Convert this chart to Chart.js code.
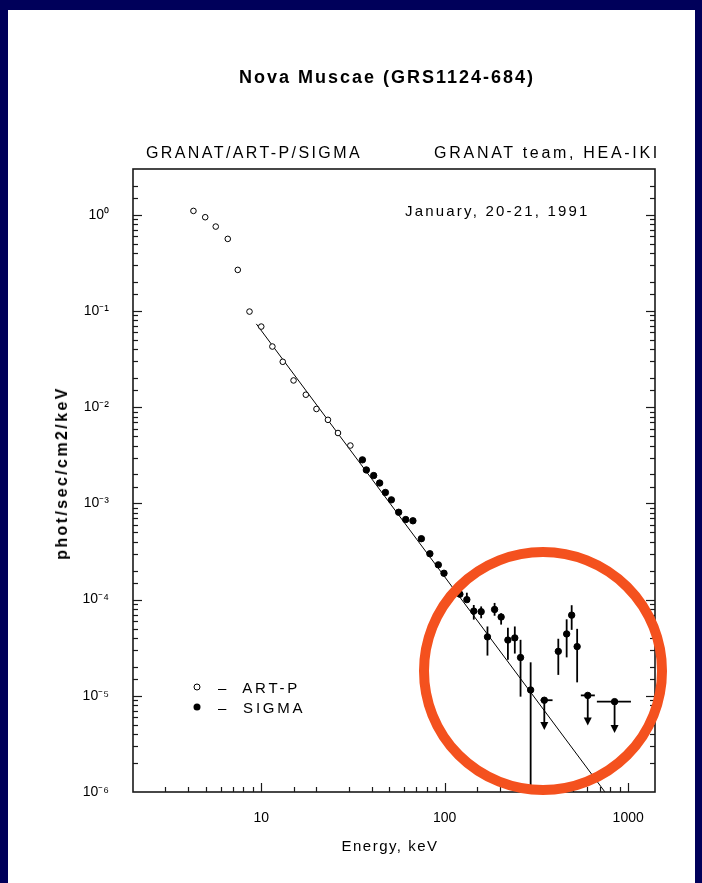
<!DOCTYPE html>
<html>
<head>
<meta charset="utf-8">
<title>Nova Muscae (GRS1124-684)</title>
<script src="https://cdn.jsdelivr.net/npm/chart.js@4/dist/chart.umd.min.js"></script>
<style>
  html, body { margin: 0; padding: 0; width: 702px; height: 883px; overflow: hidden;
    background: #00005a; font-family: "Liberation Sans", Arial, Helvetica, sans-serif; color: #000; }
  #paper { position: absolute; left: 8px; top: 10px; width: 687px; height: 873px; background: #fff; }
  #chart { position: absolute; left: 0; top: 0; }
  .t { position: absolute; white-space: nowrap; line-height: 1; }
  .mk { position: absolute; width: 5px; height: 5px; border-radius: 50%; transform: translate(-50%, -50%); }
  #ring { position: absolute; left: 419px; top: 547px; width: 248px; height: 248px; box-sizing: border-box;
    border: 10px solid #f4511e; border-radius: 50%; }
</style>
</head>
<body>
<div id="paper"></div>
<canvas id="chart" width="702" height="883"></canvas>

<div class="t" style="left:387px; top:77px; transform:translate(-50%,-50%); font-weight:bold; font-size:18px; letter-spacing:2px;">Nova Muscae (GRS1124-684)</div>
<div class="t" style="left:146px; top:153px; transform:translateY(-50%); font-size:16px; letter-spacing:2.4px;">GRANAT/ART-P/SIGMA</div>
<div class="t" style="left:660px; top:153px; transform:translate(-100%,-50%); font-size:16px; letter-spacing:2.7px;">GRANAT team, HEA-IKI</div>
<div class="t" style="left:405px; top:210px; transform:translateY(-50%); font-size:15px; letter-spacing:2.2px;">January, 20-21, 1991</div>
<div class="t" style="left:390px; top:845px; transform:translate(-50%,-50%); font-size:15px; letter-spacing:1.5px;">Energy, keV</div>
<div class="t" style="left:62px; top:473px; transform:translate(-50%,-50%) rotate(-90deg); font-weight:bold; font-size:16px; letter-spacing:2.4px;">phot/sec/cm2/keV</div>

<div class="mk" style="left:197px; top:687px; border:1px solid #000; background:#fff;"></div>
<div class="t" style="left:218px; top:687px; transform:translateY(-50%); font-size:15px; letter-spacing:2.8px;">–&nbsp; ART-P</div>
<div class="mk" style="left:197px; top:707px; width:7px; height:7px; background:#000;"></div>
<div class="t" style="left:218px; top:707px; transform:translateY(-50%); font-size:15px; letter-spacing:2.8px;">–&nbsp; SIGMA</div>

<div id="ring"></div>

<script>
// ART-P spectrum (keV, phot/sec/cm2/keV)
const artpE = [4.27, 4.95, 5.65, 6.57, 7.45, 8.63, 10.0, 11.5, 13.1, 15.0, 17.5, 20.0, 23.1, 26.2, 30.6];
const artpF = [1.10, 0.946, 0.756, 0.563, 0.268, 0.0988, 0.069, 0.0428, 0.0297, 0.0190, 0.0135, 0.0096, 0.0074, 0.0054, 0.0040];

// SIGMA detections, with error bar ends (null = bar hidden by marker)
const sigmaE = [35.6, 37.4, 41.0, 44.2, 47.5, 51.2, 56.1, 61.3, 67.1, 74.6, 83.0, 92.3, 99.1,
                121, 132, 144, 158, 171, 187, 203, 221, 241, 259, 294, 416, 462, 492, 527];
const sigmaF = [2.84e-3, 2.23e-3, 1.95e-3, 1.63e-3, 1.30e-3, 1.09e-3, 8.1e-4, 6.8e-4, 6.6e-4, 4.3e-4, 3.0e-4, 2.3e-4, 1.88e-4,
                1.14e-4, 1.0e-4, 7.6e-5, 7.5e-5, 4.1e-5, 7.9e-5, 6.6e-5, 3.8e-5, 4.0e-5, 2.5e-5, 1.15e-5, 2.9e-5, 4.4e-5, 6.9e-5, 3.25e-5];
const sigmaLo = [null, null, null, null, null, null, null, null, null, null, null, null, null,
                 1.06e-4, 9.5e-5, 6.2e-5, 6.4e-5, 2.62e-5, 6.8e-5, 5.5e-5, 2.37e-5, 2.75e-5, 9.8e-6, 1e-6, 1.65e-5, 2.51e-5, 4.85e-5, 1.38e-5];
const sigmaHi = [null, null, null, null, null, null, null, null, null, null, null, null, null,
                 1.21e-4, 1.18e-4, 8.8e-5, 8.5e-5, 5.26e-5, 9.24e-5, 7.2e-5, 5.09e-5, 5.26e-5, 3.82e-5, 2.23e-5, 3.92e-5, 6.24e-5, 8.75e-5, 4.97e-5];

// SIGMA upper limits: value, energy bin and arrow tip
const limitE = [349, 602, 843];
const limitF = [9.0e-6, 1.01e-5, 8.7e-6];
const limitELo = [333, 552, 675];
const limitEHi = [387, 658, 1035];
const limitTip = [4.4e-6, 4.9e-6, 4.1e-6];

// power-law fit, end points
const fitE = [9.4, 747];
const fitF = [0.0736, 1e-6];

const SUP = { '0': '\u2070', '1': '\u00b9', '2': '\u00b2', '3': '\u00b3', '4': '\u2074', '5': '\u2075',
              '6': '\u2076', '7': '\u2077', '8': '\u2078', '9': '\u2079', '-': '\u207b' };
const isDecade = v => Math.abs(Math.log10(v) - Math.round(Math.log10(v))) < 1e-6;
const pts = (xs, ys) => xs.map((x, i) => ({ x: x, y: ys[i] }));

const frameTicks = {
    id: 'frameTicks',
    afterDraw(chart) {
        const { ctx, chartArea: a, scales: { x, y } } = chart;
        const seg = (x1, y1, x2, y2) => { ctx.beginPath(); ctx.moveTo(x1, y1); ctx.lineTo(x2, y2); ctx.stroke(); };
        ctx.save();
        ctx.strokeStyle = '#1a1a1a';
        ctx.lineWidth = 1.2;
        x.ticks.forEach(t => {
            const px = Math.round(x.getPixelForValue(t.value)) + 0.5;
            if (px <= a.left + 1 || px >= a.right - 1) return;
            seg(px, a.bottom, px, a.bottom - (isDecade(t.value) ? 9 : 5));
        });
        y.ticks.forEach(t => {
            const py = Math.round(y.getPixelForValue(t.value)) + 0.5;
            if (py <= a.top + 1 || py >= a.bottom - 1) return;
            const len = isDecade(t.value) ? 9 : 5;
            seg(a.left, py, a.left + len, py);
            seg(a.right, py, a.right - len, py);
        });
        ctx.lineWidth = 1.6;
        ctx.strokeRect(a.left, a.top, a.right - a.left, a.bottom - a.top);
        ctx.restore();
    }
};

const errorBars = {
    id: 'errorBars',
    afterDatasetsDraw(chart) {
        const { ctx, chartArea: a, scales: { x, y } } = chart;
        const seg = (x1, y1, x2, y2) => { ctx.beginPath(); ctx.moveTo(x1, y1); ctx.lineTo(x2, y2); ctx.stroke(); };
        ctx.save();
        ctx.beginPath();
        ctx.rect(a.left, a.top, a.right - a.left, a.bottom - a.top);
        ctx.clip();
        ctx.strokeStyle = '#000';
        ctx.fillStyle = '#000';
        ctx.lineWidth = 1.8;
        sigmaE.forEach((e, i) => {
            if (sigmaLo[i] == null) return;
            const px = x.getPixelForValue(e);
            seg(px, y.getPixelForValue(sigmaLo[i]), px, y.getPixelForValue(sigmaHi[i]));
        });
        limitE.forEach((e, i) => {
            const px = x.getPixelForValue(e);
            const py = y.getPixelForValue(limitF[i]);
            const tip = y.getPixelForValue(limitTip[i]);
            seg(x.getPixelForValue(limitELo[i]), py, x.getPixelForValue(limitEHi[i]), py);
            seg(px, py, px, tip - 6);
            ctx.beginPath();
            ctx.moveTo(px - 4, tip - 8);
            ctx.lineTo(px + 4, tip - 8);
            ctx.lineTo(px, tip);
            ctx.closePath();
            ctx.fill();
        });
        ctx.restore();
    }
};

new Chart(document.getElementById('chart'), {
    type: 'scatter',
    data: {
        datasets: [
            {
                label: 'fit',
                type: 'line',
                data: pts(fitE, fitF),
                borderColor: '#000',
                borderWidth: 1,
                pointRadius: 0,
                fill: false,
                order: 3
            },
            {
                label: 'ART-P',
                data: pts(artpE, artpF),
                pointStyle: 'circle',
                pointRadius: 2.8,
                backgroundColor: '#fff',
                borderColor: '#000',
                pointBorderWidth: 1,
                order: 2
            },
            {
                label: 'SIGMA',
                data: pts(sigmaE, sigmaF),
                pointStyle: 'circle',
                pointRadius: 3.2,
                backgroundColor: '#000',
                borderColor: '#000',
                order: 1
            },
            {
                label: 'SIGMA limits',
                data: pts(limitE, limitF),
                pointStyle: 'circle',
                pointRadius: 3.2,
                backgroundColor: '#000',
                borderColor: '#000',
                order: 1
            }
        ]
    },
    options: {
        responsive: false,
        animation: false,
        events: [],
        layout: { padding: { left: 0, top: 169, right: 47, bottom: 0 } },
        plugins: { legend: { display: false }, tooltip: { enabled: false } },
        scales: {
            x: {
                type: 'logarithmic',
                min: 2,
                max: 1400,
                grid: { display: false },
                border: { display: false },
                afterFit: s => { s.height = 91; },
                ticks: {
                    autoSkip: false,
                    maxRotation: 0,
                    padding: 10,
                    color: '#000',
                    font: { family: '"Liberation Sans", Arial, sans-serif', size: 14 },
                    callback: v => isDecade(v) ? String(Math.round(v)) : ''
                }
            },
            y: {
                type: 'logarithmic',
                min: 1e-6,
                max: 3,
                grid: { display: false },
                border: { display: false },
                afterFit: s => { s.width = 133; },
                ticks: {
                    autoSkip: false,
                    padding: 16,
                    color: '#000',
                    font: { family: '"Liberation Sans", Arial, sans-serif', size: 14 },
                    callback: v => isDecade(v)
                        ? '10' + String(Math.round(Math.log10(v))).split('').map(c => SUP[c]).join('')
                        : ''
                }
            }
        }
    },
    plugins: [frameTicks, errorBars]
});
</script>
</body>
</html>
